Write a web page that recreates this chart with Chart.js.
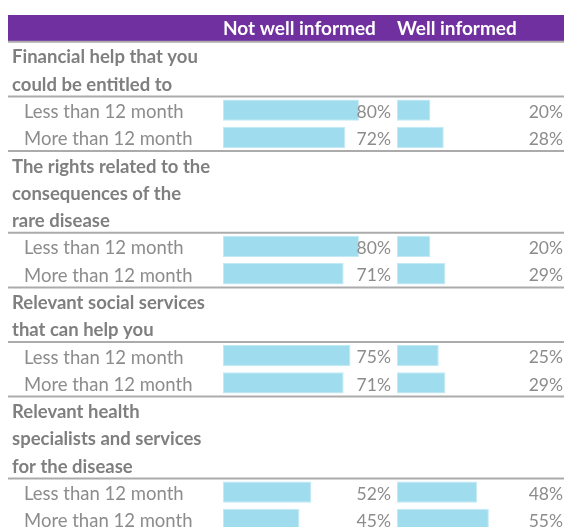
<!DOCTYPE html>
<html><head><meta charset="utf-8">
<script src="https://cdn.jsdelivr.net/npm/chart.js@4.4.0/dist/chart.umd.min.js"></script>
<style>html,body{margin:0;padding:0;background:#fff;overflow:hidden}#wrap{position:relative;width:564px;height:533px}</style>
</head><body><div id="wrap"><canvas id="c"></canvas></div>
<script>
const seriesNames = ["Not well informed", "Well informed"];
const topics = [
  ["Financial help that you", "could be entitled to"],
  ["The rights related to the", "consequences of the", "rare disease"],
  ["Relevant social services", "that can help you"],
  ["Relevant health", "specialists and services", "for the disease"]
];
const durations = ["Less than 12 month", "More than 12 month"];
const notWellInformed = [80, 72, 80, 71, 75, 71, 52, 45];
const wellInformed = [20, 28, 20, 29, 25, 29, 48, 55];

const FONT = 'Lato';
const rows = [], labels = [], dataNot = [], dataWell = [];
topics.forEach((lines, t) => {
  lines.forEach(l => { rows.push({kind: 'h', text: l}); labels.push(l); dataNot.push(null); dataWell.push(null); });
  durations.forEach((d, j) => {
    const idx = t * durations.length + j;
    rows.push({kind: 'r', text: d, first: j === 0, last: j === durations.length - 1});
    labels.push(d);
    dataNot.push(notWellInformed[idx]);
    dataWell.push(wellInformed[idx]);
  });
});

const tablePlugin = {
  id: 'table',
  beforeDraw(chart) {
    const {ctx} = chart; const x1 = chart.scales.x1;
    ctx.save();
    ctx.fillStyle = '#7030a0';
    ctx.fillRect(8, x1.top, chart.width - 8, x1.bottom - x1.top);
    ctx.restore();
  },
  afterDatasetsDraw(chart) {
    const {ctx, scales: {y, x1, x2}} = chart;
    const half = (y.getPixelForValue(1) - y.getPixelForValue(0)) / 2;
    ctx.save();
    const seps = [chart.chartArea.top];
    rows.forEach((r, i) => {
      if (r.kind === 'r' && r.first) seps.push(y.getPixelForValue(i) - half);
      if (r.kind === 'r' && r.last) seps.push(y.getPixelForValue(i) + half);
    });
    ctx.strokeStyle = '#ababab'; ctx.lineWidth = 2;
    seps.forEach(s => { ctx.beginPath(); ctx.moveTo(8, s); ctx.lineTo(chart.width, s); ctx.stroke(); });
    ctx.textBaseline = 'middle';
    rows.forEach((r, i) => {
      const yy = y.getPixelForValue(i) + 2;
      if (r.kind === 'h') {
        ctx.font = 'bold 18.5px ' + FONT; ctx.fillStyle = '#7f7f7f'; ctx.textAlign = 'left';
        ctx.fillText(r.text, 12, yy);
      } else {
        ctx.font = '18.5px ' + FONT; ctx.fillStyle = '#8c8c8c'; ctx.textAlign = 'left';
        ctx.fillText(r.text, 24, yy);
        ctx.font = '17.5px ' + FONT;
        ctx.textAlign = 'right';
        ctx.fillText(dataNot[i] + '%', x1.getPixelForValue(100) - 2, yy);
        ctx.fillText(dataWell[i] + '%', x2.getPixelForValue(100) - 1, yy);
      }
    });
    ctx.restore();
  }
};

const axisCommon = {
  position: 'top', stack: 'cols', min: 0,
  grid: {display: false, drawTicks: false}, border: {display: false},
  ticks: {display: false}
};
const titleFont = {family: FONT, size: 19, weight: 'bold', lineHeight: 1.2};

new Chart(document.getElementById('c'), {
  type: 'bar',
  data: {
    labels: labels,
    datasets: [
      {label: seriesNames[0], data: dataNot, xAxisID: 'x1', backgroundColor: '#9edcee', borderColor: '#c2eaf6', borderWidth: 1, borderSkipped: false, grouped: false, barPercentage: 0.78, categoryPercentage: 1},
      {label: seriesNames[1], data: dataWell, xAxisID: 'x2', backgroundColor: '#9edcee', borderColor: '#c2eaf6', borderWidth: 1, borderSkipped: false, grouped: false, barPercentage: 0.78, categoryPercentage: 1}
    ]
  },
  options: {
    indexAxis: 'y', responsive: true, maintainAspectRatio: false, animation: false,
    layout: {padding: {top: 15, left: 223, right: 0, bottom: 0}},
    plugins: {legend: {display: false}, tooltip: {enabled: false}},
    scales: {
      y: {type: 'category', display: false, offset: true},
      x1: Object.assign({}, axisCommon, {max: 102.4, stackWeight: 174, weight: 1,
        title: {display: true, text: seriesNames[0], align: 'start', color: '#ffffff', font: titleFont, padding: {top: 2, bottom: 2}}}),
      x2: Object.assign({}, axisCommon, {max: 100, stackWeight: 167, weight: 0,
        title: {display: true, text: seriesNames[1], align: 'start', color: '#ffffff', font: titleFont, padding: {top: 2, bottom: 2}}})
    }
  },
  plugins: [tablePlugin]
});
</script>
</body></html>
